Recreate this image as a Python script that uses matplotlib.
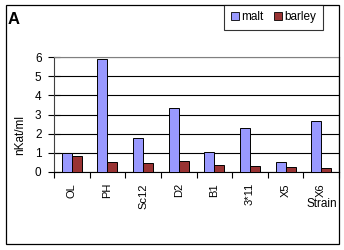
import numpy as np
import matplotlib
matplotlib.use("Agg")
import matplotlib.pyplot as plt
from matplotlib.patches import Rectangle
from matplotlib.lines import Line2D

# datos
cepas = ["OL", "PH", "Sc12", "D2", "B1", "3*11", "X5", "X6"]
malt = [0.98, 5.9, 1.75, 3.32, 1.03, 2.32, 0.52, 2.68]
barley = [0.82, 0.51, 0.47, 0.56, 0.36, 0.30, 0.24, 0.19]
yticks = [0, 1, 2, 3, 4, 5, 6]

c_malt = "#9999FF"
c_barley = "#993333"

plt.rcParams['font.family'] = ['Liberation Sans', 'DejaVu Sans']

W, H = 344, 250
fig = plt.figure(figsize=(W / 100, H / 100), dpi=100)
ax = fig.add_axes([54 / W, 1 - 172 / H, (339 - 54) / W, (172 - 57) / H])

x = np.arange(len(cepas))
ancho = 0.28
ax.bar(x - ancho / 2, malt, ancho, color=c_malt, edgecolor="black", linewidth=0.7, zorder=3)
ax.bar(x + ancho / 2, barley, ancho, color=c_barley, edgecolor="black", linewidth=0.7, zorder=3)

ax.set_xlim(-0.5, len(cepas) - 0.5)
ax.set_ylim(0, 6)
ax.set_yticks(yticks)
ax.tick_params(axis='y', direction='inout', length=8, width=0.8, labelsize=8.5, pad=5)
ax.set_xticks(x)
ax.set_xticklabels(cepas, rotation=90, fontsize=8)
ax.tick_params(axis='x', length=0, pad=8)
ax.set_xticks(np.arange(-0.5, len(cepas)), minor=True)
ax.tick_params(axis='x', which='minor', direction='out', length=4, width=0.8)

ax.yaxis.grid(True, color="black", linewidth=0.8, zorder=0)
ax.set_axisbelow(True)
ax.spines['top'].set_color("#808080")
ax.spines['right'].set_color("black")
ax.spines['left'].set_color("#404040")
ax.spines['bottom'].set_color("black")
for s in ax.spines.values():
    s.set_linewidth(0.8)

fig.text(322 / W, 1 - 204 / H, "Strain", fontsize=8.5, ha="center", va="center")
fig.text(20 / W, 1 - 135 / H, "nKat/ml", fontsize=8.5, rotation=90, ha="center", va="center")
fig.text(8 / W, 1 - 19 / H, "A", fontsize=12, fontweight="bold", ha="left", va="center")

# marco exterior
fig.patches.append(Rectangle((6 / W, 1 - 244 / H), 333 / W, 239 / H, transform=fig.transFigure,
                             fill=False, edgecolor="black", linewidth=0.9))

handles = [Line2D([], [], marker='s', linestyle='', markersize=5.5, markerfacecolor=c_malt,
                  markeredgecolor="black", markeredgewidth=0.6),
           Line2D([], [], marker='s', linestyle='', markersize=5.5, markerfacecolor=c_barley,
                  markeredgecolor="black", markeredgewidth=0.6)]
leg = fig.legend(handles, ["malt", "barley"], loc="upper right", bbox_to_anchor=(323 / W, 1 - 5 / H),
                 ncol=2, fontsize=8.5, frameon=True, fancybox=False, borderpad=0.55,
                 handlelength=0.7, handletextpad=0.2, columnspacing=0.9, borderaxespad=0)
leg.get_frame().set_edgecolor("black")
leg.get_frame().set_linewidth(0.8)

fig.savefig("out.png", dpi=100)
